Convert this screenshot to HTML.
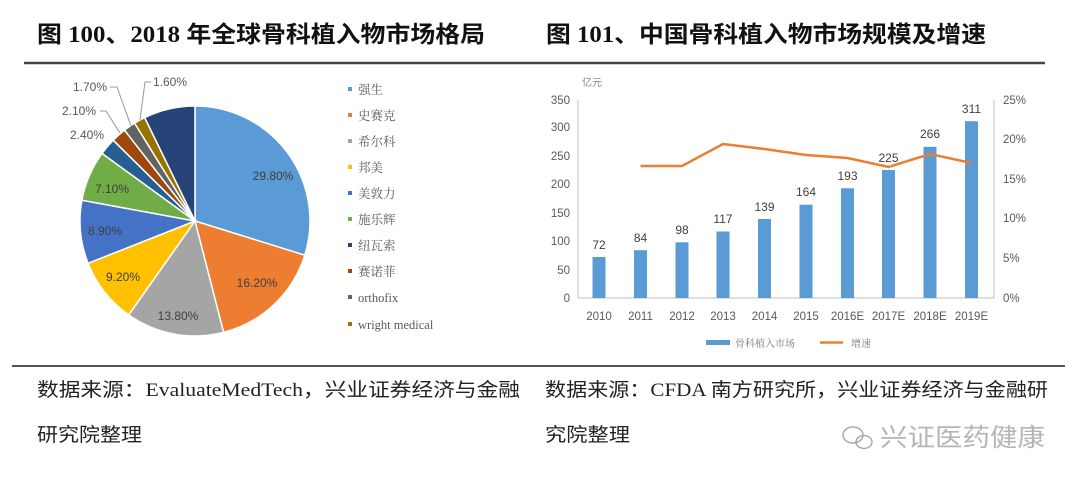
<!DOCTYPE html>
<html><head><meta charset="utf-8"><style>
body{margin:0;width:1080px;height:490px;background:#fff;overflow:hidden;font-family:"Liberation Serif","Noto Serif CJK SC",serif;}
</style></head><body>
<svg width="1080" height="490" xmlns="http://www.w3.org/2000/svg">
<g font-family="Liberation Serif, Noto Sans CJK SC, sans-serif" font-weight="bold" font-size="23" fill="#111">
<text x="37" y="42" textLength="448" lengthAdjust="spacingAndGlyphs">图 100、2018 年全球骨科植入物市场格局</text>
<text x="546" y="42" textLength="440" lengthAdjust="spacingAndGlyphs">图 101、中国骨科植入物市场规模及增速</text>
</g>
<line x1="24" y1="63" x2="1045" y2="63" stroke="#444" stroke-width="2.5"/>
<line x1="12" y1="366" x2="1065" y2="366" stroke="#555" stroke-width="2"/>
<!-- pie -->
<g stroke="#fff" stroke-width="1.5">
<path d="M195,221 L195,106 A115,115 0 0 1 304.8,255.2 Z" fill="#5B9BD5"/>
<path d="M195,221 L304.8,255.2 A115,115 0 0 1 223.6,332.4 Z" fill="#ED7D31"/>
<path d="M195,221 L223.6,332.4 A115,115 0 0 1 128.6,314.9 Z" fill="#A5A5A5"/>
<path d="M195,221 L128.6,314.9 A115,115 0 0 1 88.1,263.3 Z" fill="#FFC000"/>
<path d="M195,221 L88.1,263.3 A115,115 0 0 1 81.9,200.2 Z" fill="#4472C4"/>
<path d="M195,221 L81.9,200.2 A115,115 0 0 1 102.0,153.4 Z" fill="#70AD47"/>
<path d="M195,221 L102.0,153.4 A115,115 0 0 1 113.2,140.2 Z" fill="#255E91"/>
<path d="M195,221 L113.2,140.2 A115,115 0 0 1 124.5,130.1 Z" fill="#9E480E"/>
<path d="M195,221 L124.5,130.1 A115,115 0 0 1 134.6,123.1 Z" fill="#636363"/>
<path d="M195,221 L134.6,123.1 A115,115 0 0 1 144.7,117.6 Z" fill="#997300"/>
<path d="M195,221 L144.7,117.6 A115,115 0 0 1 195,106 Z" fill="#264478"/>
</g>
<g font-family="Liberation Sans, sans-serif" font-size="12" fill="#404040" text-anchor="middle">
<text x="273" y="180">29.80%</text>
<text x="257" y="287">16.20%</text>
<text x="178" y="320">13.80%</text>
<text x="123" y="281">9.20%</text>
<text x="105" y="235">8.90%</text>
<text x="112" y="193">7.10%</text>
</g>
<g font-family="Liberation Sans, sans-serif" font-size="12" fill="#595959">
<text x="73" y="91">1.70%</text>
<text x="153" y="86">1.60%</text>
<text x="62" y="115">2.10%</text>
<text x="70" y="139">2.40%</text>
</g>
<g stroke="#999" fill="none" stroke-width="1">
<polyline points="110,87 117,87 131,126"/>
<polyline points="151,82 145,82 140,120"/>
<polyline points="100,111 106,111 120,133"/>
</g>
<!-- legend -->
<g font-family="Liberation Serif, Noto Serif CJK SC, serif" font-size="12.5" fill="#595959">
<rect x="348" y="87" width="4" height="4" fill="#5B9BD5"/><text x="358" y="94">强生</text>
<rect x="348" y="113" width="4" height="4" fill="#ED7D31"/><text x="358" y="120">史赛克</text>
<rect x="348" y="139" width="4" height="4" fill="#A5A5A5"/><text x="358" y="146">希尔科</text>
<rect x="348" y="165" width="4" height="4" fill="#FFC000"/><text x="358" y="172">邦美</text>
<rect x="348" y="191" width="4" height="4" fill="#4472C4"/><text x="358" y="198">美敦力</text>
<rect x="348" y="217" width="4" height="4" fill="#70AD47"/><text x="358" y="224">施乐辉</text>
<rect x="348" y="243" width="4" height="4" fill="#264478"/><text x="358" y="250">纽瓦索</text>
<rect x="348" y="269" width="4" height="4" fill="#9E480E"/><text x="358" y="276">赛诺菲</text>
<rect x="348" y="295" width="4" height="4" fill="#636363"/><text x="358" y="302">orthofix</text>
<rect x="348" y="322" width="4" height="4" fill="#997300"/><text x="358" y="329">wright medical</text>
</g>
<!-- bar chart -->
<g stroke="#bfbfbf" stroke-width="1">
<line x1="578" y1="100" x2="578" y2="298"/>
<line x1="578" y1="298" x2="994" y2="298"/>
<line x1="994" y1="100" x2="994" y2="298"/>
</g>
<g font-family="Liberation Sans, sans-serif" font-size="11.5" fill="#595959" text-anchor="end">
<text x="570" y="302">0</text><text x="570" y="274">50</text><text x="570" y="245">100</text>
<text x="570" y="217">150</text><text x="570" y="188">200</text><text x="570" y="160">250</text>
<text x="570" y="131">300</text><text x="570" y="104">350</text>
</g>
<g font-family="Liberation Sans, sans-serif" font-size="11.5" fill="#595959">
<text x="1003" y="302">0%</text><text x="1003" y="262">5%</text><text x="1003" y="222">10%</text>
<text x="1003" y="183">15%</text><text x="1003" y="143">20%</text><text x="1003" y="104">25%</text>
</g>
<text x="582" y="86" font-family="Noto Sans CJK SC, sans-serif" font-size="10" fill="#888">亿元</text>
<g fill="#5B9BD5">
<rect x="592.5" y="257" width="13" height="41"/>
<rect x="634" y="250.2" width="13" height="47.8"/>
<rect x="675.5" y="242.3" width="13" height="55.7"/>
<rect x="716.5" y="231.5" width="13" height="66.5"/>
<rect x="758" y="219" width="13" height="79"/>
<rect x="799.5" y="204.7" width="13" height="93.3"/>
<rect x="841" y="188.3" width="13" height="109.7"/>
<rect x="882" y="170" width="13" height="128"/>
<rect x="923.5" y="146.8" width="13" height="151.2"/>
<rect x="965" y="121.2" width="13" height="176.8"/>
</g>
<g font-family="Liberation Sans, sans-serif" font-size="12" fill="#404040" text-anchor="middle">
<text x="599" y="249">72</text><text x="640.5" y="242">84</text><text x="682" y="234">98</text>
<text x="723" y="223">117</text><text x="764.5" y="211">139</text><text x="806" y="196">164</text>
<text x="847.5" y="180">193</text><text x="888.5" y="162">225</text><text x="930" y="138">266</text>
<text x="971.5" y="113">311</text>
</g>
<polyline points="640.5,166 682,166 723,144 764.5,149 806,155 847.5,158 888.5,167 930,154 971.5,163" fill="none" stroke="#ED7D31" stroke-width="2.5"/>
<g font-family="Liberation Sans, sans-serif" font-size="11.5" fill="#595959" text-anchor="middle">
<text x="599" y="320">2010</text><text x="640.5" y="320">2011</text><text x="682" y="320">2012</text>
<text x="723" y="320">2013</text><text x="764.5" y="320">2014</text><text x="806" y="320">2015</text>
<text x="847.5" y="320">2016E</text><text x="888.5" y="320">2017E</text><text x="930" y="320">2018E</text>
<text x="971.5" y="320">2019E</text>
</g>
<rect x="706" y="340" width="24" height="5" fill="#5B9BD5"/>
<text x="735" y="347" font-family="Noto Serif CJK SC, serif" font-size="10" fill="#777">骨科植入市场</text>
<line x1="820" y1="342.5" x2="843" y2="342.5" stroke="#ED7D31" stroke-width="2.5"/>
<text x="851" y="347" font-family="Noto Serif CJK SC, serif" font-size="10" fill="#777">增速</text>
<!-- sources -->
<g font-family="Liberation Serif, Noto Sans CJK SC, sans-serif" font-size="19" fill="#222">
<text x="37" y="396" textLength="483" lengthAdjust="spacingAndGlyphs">数据来源：EvaluateMedTech，兴业证券经济与金融</text>
<text x="37" y="441" textLength="105" lengthAdjust="spacingAndGlyphs">研究院整理</text>
<text x="545" y="396" textLength="503" lengthAdjust="spacingAndGlyphs">数据来源：CFDA 南方研究所，兴业证券经济与金融研</text>
<text x="545" y="441" textLength="85" lengthAdjust="spacingAndGlyphs">究院整理</text>
</g>
<g fill="none" stroke="#aaa" stroke-width="1.5">
<ellipse cx="853" cy="435" rx="10" ry="8"/>
<ellipse cx="864" cy="442" rx="8" ry="6.5"/>
</g>
<text x="880" y="446" font-family="Noto Sans CJK SC, sans-serif" font-size="25" fill="#b5b5b5" textLength="165" lengthAdjust="spacingAndGlyphs">兴证医药健康</text>
</svg>
</body></html>
